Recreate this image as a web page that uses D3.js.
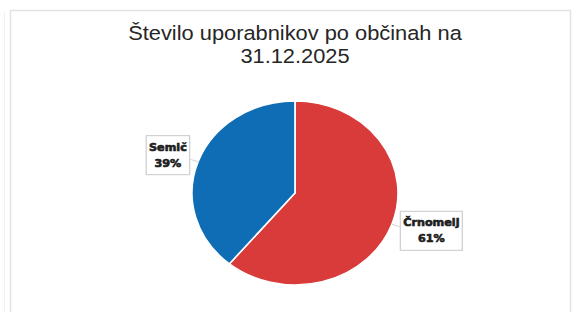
<!DOCTYPE html>
<html>
<head>
<meta charset="utf-8">
<script src="https://cdn.jsdelivr.net/npm/d3@7"></script>
<style>
  html, body { margin: 0; padding: 0; background: #fff; }
  svg { display: block; }
</style>
</head>
<body>
<div id="chart"></div>
<script>
// data
const categories = ["Črnomelj", "Semič"];
const shares = [61, 39];
const colours = ["#d93a3a", "#0f6db5"];
const titleLines = ["Število uporabnikov po občinah na", "31.12.2025"];

const width = 577, height = 312;
const cx = 295, cy = 193;
const sx = 1.12; // the picture is a bit wider than tall
const radius = 92;

const svg = d3.select("#chart").append("svg")
  .attr("width", width)
  .attr("height", height);

// frame
svg.append("rect")
  .attr("x", 10.5).attr("y", 10.5)
  .attr("width", 560).attr("height", 330)
  .attr("fill", "none")
  .attr("stroke", "#e2e2e2")
  .attr("stroke-width", 1.5);
svg.append("line")
  .attr("x1", 4.5).attr("x2", 4.5)
  .attr("y1", 12).attr("y2", height)
  .attr("stroke", "#f0f0f0");

const g = svg.append("g")
  .attr("transform", "translate(" + cx + ",0) scale(" + sx + ",1)");

// title
g.append("text")
  .attr("text-anchor", "middle")
  .attr("font-family", "'Liberation Sans', Arial, sans-serif")
  .attr("font-size", 19.5)
  .attr("fill", "#262626")
  .selectAll("tspan")
  .data(titleLines).enter()
    .append("tspan")
    .attr("x", 0)
    .attr("y", (d, i) => 40 + i * 23)
    .text(d => d);

const pie = d3.pie().sort(null)(shares);
const arc = d3.arc().innerRadius(0).outerRadius(radius);
const labelArc = d3.arc().innerRadius(100).outerRadius(100);

const pieG = g.append("g").attr("transform", "translate(0," + cy + ")");

pieG.selectAll("path.slice")
  .data(pie).enter()
  .append("path")
    .attr("class", "slice")
    .attr("d", arc)
    .attr("fill", (d, i) => colours[i])
    .attr("stroke", "#fff")
    .attr("stroke-width", 1.5);

// data labels in boxes
const lineH = 16;
pie.forEach((d, i) => {
  const mid = (d.startAngle + d.endAngle) / 2;
  const [ax, ay] = labelArc.centroid(d);
  const right = Math.sin(mid) > 0;
  const lines = [categories[i], shares[i] + "%"];

  const lab = pieG.append("g");
  const txt = lab.append("text")
    .attr("text-anchor", "middle")
    .attr("font-family", "'DejaVu Sans', sans-serif")
    .attr("font-weight", "bold")
    .attr("font-size", 10)
    .attr("fill", "#1e1e1e")
    .attr("stroke", "#1e1e1e")
    .attr("stroke-width", 0.6);
  txt.selectAll("tspan")
    .data(lines).enter()
    .append("tspan")
      .attr("x", 0)
      .attr("y", (t, j) => (j - 0.5) * lineH + 3.5)
      .text(t => t);

  const bb = txt.node().getBBox();
  const bw = bb.width + 5, bh = 2 * lineH + 7;
  const bx = right ? ax + bw / 2 : ax - bw / 2;
  const by = ay - 4 * Math.sign(Math.cos(mid));

  lab.insert("rect", "text")
    .attr("x", -bw / 2).attr("y", -bh / 2)
    .attr("width", bw).attr("height", bh)
    .attr("fill", "#fff")
    .attr("stroke", "#d2d2d2")
    .attr("stroke-width", 1.2);
  lab.attr("transform", "translate(" + bx + "," + by + ")");

  // short leader to the slice edge
  const [ex, ey] = d3.arc().innerRadius(radius).outerRadius(radius).centroid(d);
  pieG.append("line")
    .attr("x1", ax).attr("y1", ay)
    .attr("x2", ex).attr("y2", ey)
    .attr("stroke", "#d2d2d2")
    .attr("stroke-width", 1);
});
</script>
</body>
</html>
